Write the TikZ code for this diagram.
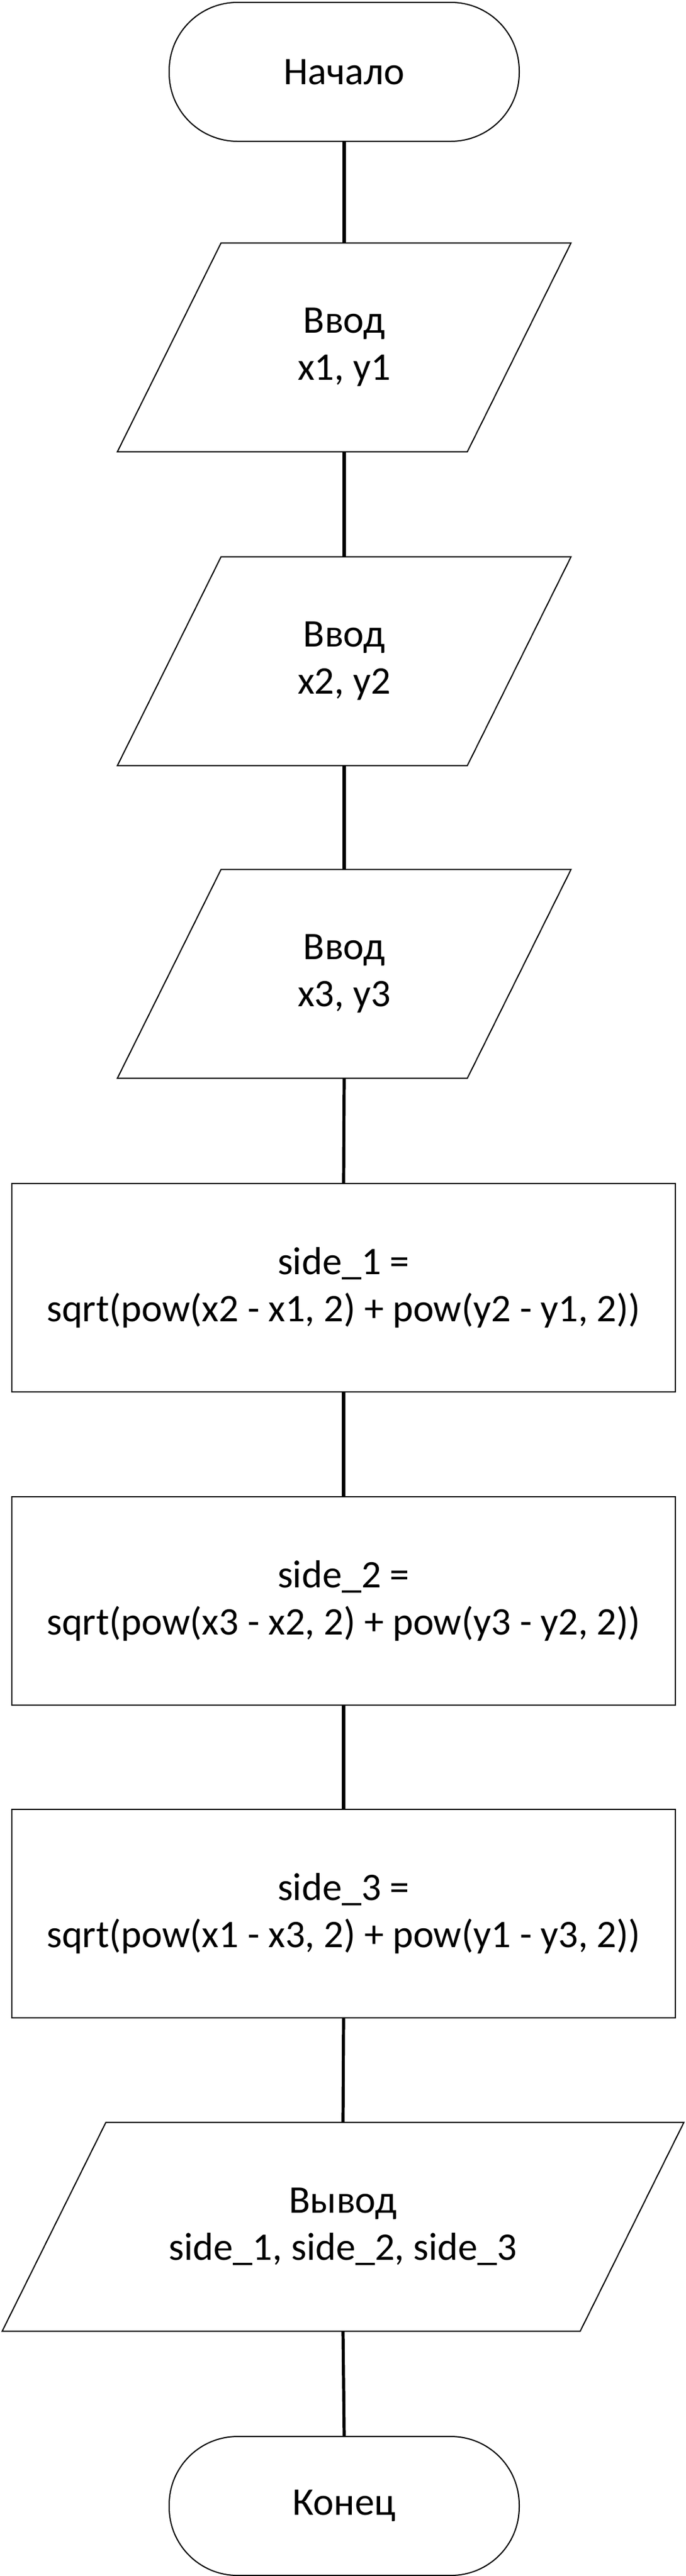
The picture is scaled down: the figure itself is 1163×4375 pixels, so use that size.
\documentclass[tikz,border=0pt]{standalone}
\usepackage{fontspec}
\setmainfont{Carlito}
\begin{document}
\begin{tikzpicture}[x=0.5pt,y=-0.5pt,
  boxline/.style={draw=black,line width=1pt},
  conn/.style={draw=black,line width=2.6pt},
  txt/.style={font=\fontsize{33.2}{40}\selectfont,align=center,inner sep=0pt},
  term/.style={txt,boxline,rounded corners=58pt,minimum width=297pt,minimum height=118pt},
  iobox/.style={txt,minimum width=296.5pt,minimum height=177pt},
  iowide/.style={txt,minimum width=490pt,minimum height=177pt},
  procbox/.style={txt,boxline,minimum width=563pt,minimum height=177pt}
]
\useasboundingbox (0,0) rectangle (1163,4375);
\node[term] (start) at (584,122) {Начало};
\node[iobox] (in1) at (584,590) {Ввод\\x1, y1};
\node[iobox] (in2) at (584,1123) {Ввод\\x2, y2};
\node[iobox] (in3) at (584,1654) {Ввод\\x3, y3};
\node[procbox] (s1) at (583,2187) {side\_1 =\\sqrt(pow(x2 - x1, 2) + pow(y2 - y1, 2))};
\node[procbox] (s2) at (583,2719) {side\_2 =\\sqrt(pow(x3 - x2, 2) + pow(y3 - y2, 2))};
\node[procbox] (s3) at (583,3250) {side\_3 =\\sqrt(pow(x1 - x3, 2) + pow(y1 - y3, 2))};
\node[iowide] (out) at (582,3782) {Вывод\\side\_1, side\_2, side\_3};
\node[term] (stop) at (584,4256) {Конец};
\foreach \n in {in1,in2,in3,out}
  \draw[boxline] ([xshift=44pt]\n.north west) -- ([xshift=44pt]\n.north east)
    -- ([xshift=-44pt]\n.south east) -- ([xshift=-44pt]\n.south west) -- cycle;
\draw[conn] (start.south) -- (in1.north);
\draw[conn] (in1.south) -- (in2.north);
\draw[conn] (in2.south) -- (in3.north);
\draw[conn] (in3.south) -- (s1.north);
\draw[conn] (s1.south) -- (s2.north);
\draw[conn] (s2.south) -- (s3.north);
\draw[conn] (s3.south) -- (out.north);
\draw[conn] (out.south) -- (stop.north);
\end{tikzpicture}
\end{document}
